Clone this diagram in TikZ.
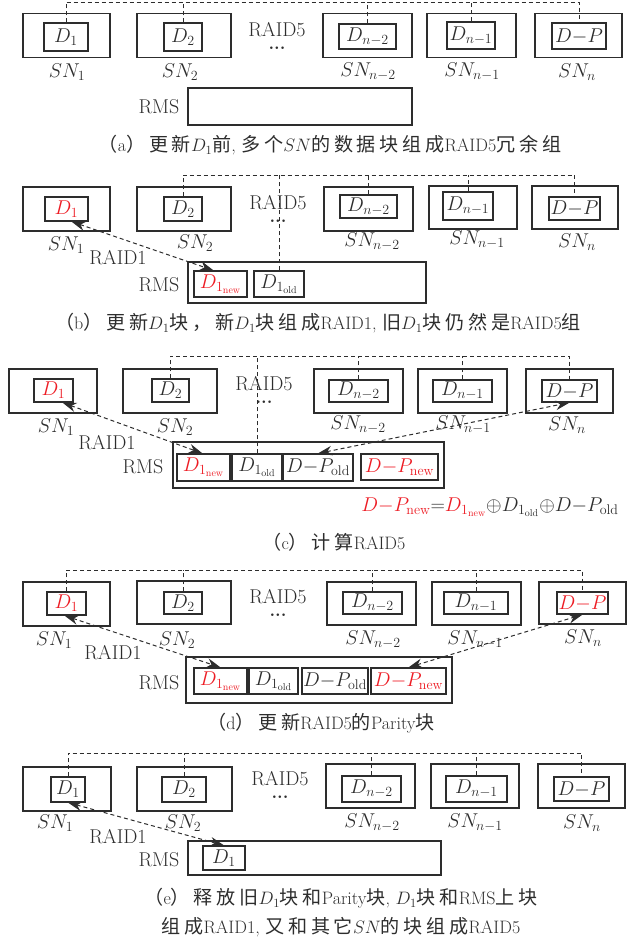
\RequirePackage{fix-cm}
\documentclass[tikz,border=0pt]{standalone}
\usepackage{amsmath}
\usepackage{fontspec}
\usepackage{xcolor}
\usepackage{tikz}
\usetikzlibrary{arrows.meta, calc}
\newfontfamily\cjk[LetterSpace=20, Scale=1.06]{Noto Sans CJK SC}
\definecolor{cred}{RGB}{237,28,36}
\definecolor{cline}{RGB}{45,45,45}
\newcommand{\zh}[1]{{\cjk #1}}
\newcommand{\raidtag}{\shortstack{RAID5\\[7pt]{\bfseries\fontsize{18}{20}\selectfont...}}}

\begin{document}
\begin{tikzpicture}[x=1pt, y=-1pt, color=cline,
    >={Stealth[length=14pt, width=9.5pt]},
    snbox/.style={draw, line width=1.3pt, minimum width=88pt, minimum height=44pt, inner sep=0pt},
    blk/.style={draw, line width=1.2pt, minimum height=24pt, inner sep=0pt, font=\fontsize{20}{22}\selectfont},
    snlbl/.style={inner sep=1pt, font=\fontsize{20}{22}\selectfont},
    tag/.style={inner sep=0pt, font=\fontsize{20}{22}\selectfont},
    rmsbox/.style={draw, line width=1.3pt, inner sep=0pt},
    capt/.style={font=\fontsize{18}{29}\selectfont, align=center},
    link/.style={draw, line width=1pt, dash pattern=on 4pt off 3pt},
    raidlink/.style={link, <->},
]
    \useasboundingbox (0,0) rectangle (634,940);

    % (a) before the update
    \coordinate (busa) at (0,2);
    \node[snbox, minimum width=87pt] (sn1a) at (66.5,35.5) {};
    \node[blk, minimum width=44pt, minimum height=28pt] (d1a) at (66,37) {$D_1$};
    \node[snbox, minimum width=94pt] (sn2a) at (184,35.5) {};
    \node[blk, minimum width=38pt, minimum height=28pt] (d2a) at (183,37) {$D_2$};
    \node[snbox, minimum width=89pt] (sn3a) at (367.5,35.5) {};
    \node[blk, minimum width=57pt, minimum height=25pt] (d3a) at (367.5,36.5) {$D_{n-2}$};
    \node[snbox, minimum width=89pt] (sn4a) at (471.5,35.5) {};
    \node[blk, minimum width=48pt, minimum height=27pt] (d4a) at (471,35.5) {$D_{n-1}$};
    \node[snbox, minimum width=87pt] (sn5a) at (578.5,35.5) {};
    \node[blk, minimum width=54pt, minimum height=26pt] (d5a) at (579,36) {$D{-}P$};
    \node[snlbl] (l1a) at (67,72) {$SN_1$};
    \node[snlbl] (l2a) at (180,72) {$SN_2$};
    \node[snlbl] (l3a) at (368,72) {$SN_{n-2}$};
    \node[snlbl] (l4a) at (472,72) {$SN_{n-1}$};
    \node[snlbl] (l5a) at (577,72) {$SN_n$};
    \node[tag] (raid5a) at (277,35.5) {\raidtag};
    \node[tag] (rmslbla) at (159,107) {RMS};
    \node[rmsbox, minimum width=224pt, minimum height=37pt] (rmsa) at (300,106.5) {};
    \draw[link] (d1a.north) |- (busa -| d5a.north) -- (d5a.north);
    \foreach \b in {d2a,d3a,d4a} \draw[link] (\b.north) -- (\b.north |- busa);
    \node[capt] (capa) at (330,145) {\zh{（}a\zh{）更新}$D_1$\zh{前}, \zh{多个}$SN$\zh{的数据块组成}RAID5\zh{冗余组}};

    % (b) new D1 goes to the RMS
    \coordinate (busb) at (0,175);
    \node[snbox, minimum width=87pt] (sn1b) at (66.5,209) {};
    \node[blk, minimum width=43pt, text=cred] (d1b) at (66.5,209) {$D_1$};
    \node[snbox, minimum width=94pt] (sn2b) at (184,209) {};
    \node[blk, minimum width=38pt] (d2b) at (183,209) {$D_2$};
    \node[snbox, minimum width=89pt] (sn3b) at (368.5,209) {};
    \node[blk, minimum width=57pt, minimum height=23pt] (d3b) at (368.5,206.5) {$D_{n-2}$};
    \node[snbox, minimum width=88pt, minimum height=43pt] (sn4b) at (473,207.5) {};
    \node[blk, minimum width=50pt, minimum height=28pt] (d4b) at (468,206) {$D_{n-1}$};
    \node[snbox, minimum width=86pt, minimum height=43pt] (sn5b) at (575,207.5) {};
    \node[blk, minimum width=51pt, minimum height=23pt] (d5b) at (574.5,208.5) {$D{-}P$};
    \node[snlbl] (l1b) at (66,245) {$SN_1$};
    \node[snlbl] (l2b) at (195,243) {$SN_2$};
    \node[snlbl] (l3b) at (372,242) {$SN_{n-2}$};
    \node[snlbl] (l4b) at (477,240) {$SN_{n-1}$};
    \node[snlbl] (l5b) at (577,242) {$SN_n$};
    \node[tag] (raid5b) at (278,209) {\raidtag};
    \node[tag] (raid1b) at (118,258) {RAID1};
    \node[tag] (rmslblb) at (159,285) {RMS};
    \node[rmsbox, minimum width=238pt, minimum height=41pt] (rmsb) at (307,282.5) {};
    \node[blk, minimum width=53pt, minimum height=26pt, text=cred] (dnewb) at (220.5,284) {$D_{1_{\mathrm{new}}}$};
    \node[blk, minimum width=50pt, minimum height=26pt] (doldb) at (279,284) {$D_{1_{\mathrm{old}}}$};
    \draw[link] (d2b.north) |- (busb -| d5b.north) -- (d5b.north);
    \foreach \b in {doldb,d3b,d4b} \draw[link] (\b.north) -- (\b.north |- busb);
    \draw[raidlink] ([xshift=5pt]d1b.south) -- ([xshift=-7pt]dnewb.north);
    \node[capt] (capb) at (318,323) {\zh{（}b\zh{）更新}$D_1$\zh{块，新}$D_1$\zh{块组成}RAID1, \zh{旧}$D_1$\zh{块仍然是}RAID5\zh{组}};

    % (c) computing the new parity
    \coordinate (busc) at (0,356);
    \node[snbox] (sn1c) at (53,391) {};
    \node[blk, minimum width=39pt, minimum height=23pt, text=cred] (d1c) at (53.5,390.5) {$D_1$};
    \node[snbox, minimum width=94pt] (sn2c) at (170,391) {};
    \node[blk, minimum width=37pt, minimum height=23pt] (d2c) at (170.5,390.5) {$D_2$};
    \node[snbox, minimum width=89pt] (sn3c) at (358.5,391) {};
    \node[blk, minimum width=59pt, minimum height=22pt] (d3c) at (358.5,391) {$D_{n-2}$};
    \node[snbox, minimum width=89pt] (sn4c) at (462.5,391) {};
    \node[blk, minimum width=59pt, minimum height=22pt] (d4c) at (462.5,391) {$D_{n-1}$};
    \node[snbox, minimum width=87pt] (sn5c) at (569.5,391) {};
    \node[blk, minimum width=55pt, minimum height=22pt] (d5c) at (569.5,391) {$D{-}P$};
    \node[snlbl] (l1c) at (56,427) {$SN_1$};
    \node[snlbl] (l2c) at (175,427) {$SN_2$};
    \node[snlbl] (l3c) at (358,425) {$SN_{n-2}$};
    \node[snlbl] (l4c) at (463,425) {$SN_{n-1}$};
    \node[snlbl] (l5c) at (567,425) {$SN_n$};
    \node[tag] (raid5c) at (264,390) {\raidtag};
    \node[tag] (raid1c) at (107,443) {RAID1};
    \node[tag] (rmslblc) at (143,467) {RMS};
    \node[rmsbox, minimum width=271pt, minimum height=46pt] (rmsc) at (308.5,465) {};
    \node[blk, minimum width=53pt, minimum height=27pt, text=cred] (dnewc) at (203.5,467.5) {$D_{1_{\mathrm{new}}}$};
    \node[blk, minimum width=50pt, minimum height=27pt] (doldc) at (257,467.5) {$D_{1_{\mathrm{old}}}$};
    \node[blk, minimum width=70pt, minimum height=27pt] (poldc) at (318,467.5) {$D{-}P_{\mathrm{old}}$};
    \node[blk, minimum width=77pt, minimum height=26pt, text=cred] (pnewc) at (399.5,467) {$D{-}P_{\mathrm{new}}$};
    \draw[link] (d2c.north) |- (busc -| d5c.north) -- (d5c.north);
    \foreach \b in {doldc,d3c,d4c} \draw[link] (\b.north) -- (\b.north |- busc);
    \draw[raidlink] ([xshift=9pt]d1c.south) -- ([xshift=-1pt]dnewc.north);
    \draw[raidlink] (poldc.north) -- (d5c.south);
    \node[snlbl] (xorc) at (490,507) {$\textcolor{cred}{D{-}P_{\mathrm{new}}}{=}\textcolor{cred}{D_{1_{\mathrm{new}}}}{\oplus}D_{1_{\mathrm{old}}}{\oplus}D{-}P_{\mathrm{old}}$};
    \node[capt] (capc) at (334,542) {\zh{（}c\zh{）计算}RAID5};

    % (d) parity written back
    \coordinate (busd) at (0,570);
    \node[snbox, minimum width=87pt] (sn1d) at (66.5,604) {};
    \node[blk, minimum width=39pt, minimum height=23pt, text=cred] (d1d) at (66.5,603.5) {$D_1$};
    \node[snbox, minimum width=94pt, minimum height=43pt] (sn2d) at (184,602.5) {};
    \node[blk, minimum width=38pt, minimum height=22pt] (d2d) at (183,603) {$D_2$};
    \node[snbox, minimum width=89pt, minimum height=43pt] (sn3d) at (371.5,603.5) {};
    \node[blk, minimum width=59pt, minimum height=22pt] (d3d) at (372.5,603) {$D_{n-2}$};
    \node[snbox, minimum width=89pt, minimum height=43pt] (sn4d) at (476.5,603.5) {};
    \node[blk, minimum width=64pt, minimum height=22pt] (d4d) at (476,603) {$D_{n-1}$};
    \node[snbox, minimum width=87pt, minimum height=42pt] (sn5d) at (582.5,603) {};
    \node[blk, minimum width=51pt, minimum height=22pt, text=cred] (d5d) at (582.5,603) {$D{-}P$};
    \node[snlbl] (l1d) at (54,640) {$SN_1$};
    \node[snlbl] (l2d) at (177,640) {$SN_2$};
    \node[snlbl] (l3d) at (373,640) {$SN_{n-2}$};
    \node[snlbl] (l4d) at (475,640) {$SN_{n-1}$};
    \node[snlbl] (l5d) at (583,638) {$SN_n$};
    \node[tag] (raid5d) at (278,603) {\raidtag};
    \node[tag] (raid1d) at (113,653) {RAID1};
    \node[tag] (rmslbld) at (159,683) {RMS};
    \node[rmsbox, minimum width=266pt, minimum height=46pt] (rmsd) at (319,680) {};
    \node[blk, minimum width=53pt, minimum height=26pt, text=cred] (dnewd) at (220.5,681) {$D_{1_{\mathrm{new}}}$};
    \node[blk, minimum width=49pt, minimum height=26pt] (doldd) at (273.5,681) {$D_{1_{\mathrm{old}}}$};
    \node[blk, minimum width=66pt, minimum height=26pt] (poldd) at (335,681) {$D{-}P_{\mathrm{old}}$};
    \node[blk, minimum width=75pt, minimum height=26pt, text=cred] (pnewd) at (408.5,681) {$D{-}P_{\mathrm{new}}$};
    \draw[link] (d1d.north) |- (busd -| d5d.north) -- (d5d.north);
    \foreach \b in {d2d,d3d,d4d} \draw[link] (\b.north) -- (\b.north |- busd);
    \draw[raidlink] ([xshift=-2pt]d1d.south) -- (dnewd.north);
    \draw[raidlink] (pnewd.north) -- (d5d.south);
    \node[capt] (capd) at (321,723) {\zh{（}d\zh{）更新}RAID5\zh{的}Parity\zh{块}};

    % (e) old blocks released
    \coordinate (buse) at (0,753);
    \node[snbox] (sn1e) at (67,789) {};
    \node[blk, minimum width=34pt, minimum height=25pt] (d1e) at (68,789.5) {$D_1$};
    \node[snbox, minimum width=95pt] (sn2e) at (184.5,789) {};
    \node[blk, minimum width=44pt, minimum height=25pt] (d2e) at (184,789.5) {$D_2$};
    \node[snbox, minimum width=89pt] (sn3e) at (370.5,786) {};
    \node[blk, minimum width=59pt, minimum height=26pt] (d3e) at (371.5,789) {$D_{n-2}$};
    \node[snbox] (sn4e) at (475,786) {};
    \node[blk, minimum width=61pt, minimum height=26pt] (d4e) at (476.5,789) {$D_{n-1}$};
    \node[snbox, minimum width=87pt] (sn5e) at (581.5,786) {};
    \node[blk, minimum width=55pt] (d5e) at (581.5,789) {$D{-}P$};
    \node[snlbl] (l1e) at (55,823) {$SN_1$};
    \node[snlbl] (l2e) at (183,823) {$SN_2$};
    \node[snlbl] (l3e) at (372,823) {$SN_{n-2}$};
    \node[snlbl] (l4e) at (475,823) {$SN_{n-1}$};
    \node[snlbl] (l5e) at (582,823) {$SN_n$};
    \node[tag] (raid5e) at (280,785) {\raidtag};
    \node[tag] (raid1e) at (118,837) {RAID1};
    \node[tag] (rmslble) at (159,860) {RMS};
    \node[rmsbox, minimum width=253pt, minimum height=34pt] (rmse) at (314.5,858) {};
    \node[blk, minimum width=42pt] (d1rmse) at (224,858) {$D_1$};
    \draw[link] (d1e.north) |- (buse -| d5e.north) -- (d5e.north);
    \foreach \b in {d2e,d3e,d4e} \draw[link] (\b.north) -- (\b.north |- buse);
    \draw[raidlink] (d1e.south) -- (d1rmse.north);
    \node[capt] (cape) at (341,912.5) {\zh{（}e\zh{）释放旧}$D_1$\zh{块和}Parity\zh{块}, $D_1$\zh{块和}RMS\zh{上块}\\
        \zh{组成}RAID1, \zh{又和其它}$SN$\zh{的块组成}RAID5};
\end{tikzpicture}
\end{document}
